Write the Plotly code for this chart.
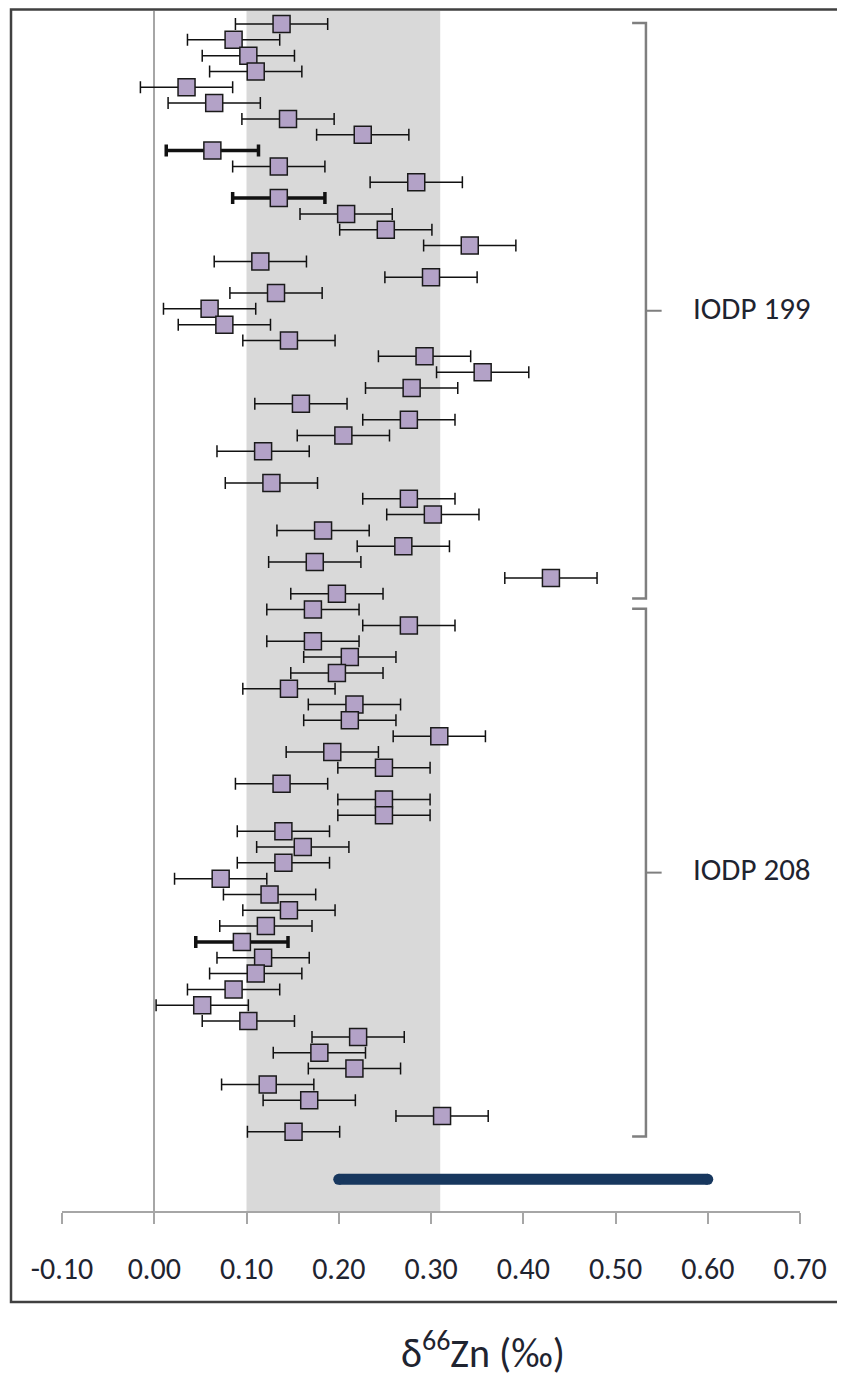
import plotly.graph_objects as go

# d66Zn values, top to bottom (None = empty row)
IODP_199 = [0.138, 0.086, 0.102, 0.110, 0.035, 0.065, 0.145, 0.226, 0.063, 0.135,
            0.284, 0.135, 0.208, 0.251, 0.342, 0.115, 0.300, 0.132, 0.060, 0.076,
            0.146, 0.293, 0.356, 0.279, 0.159, 0.276, 0.205, 0.118, None, 0.127,
            0.276, 0.302, 0.183, 0.270, 0.174, 0.430, 0.198]
IODP_208 = [0.172, 0.276, 0.172, 0.212, 0.198, 0.146, 0.217, 0.212, 0.309, 0.193,
            0.249, 0.138, 0.249, 0.249, 0.140, 0.161, 0.140, 0.072, 0.125, 0.146,
            0.121, 0.095, 0.118, 0.110, 0.086, 0.052, 0.102, 0.221, 0.179, 0.217,
            0.123, 0.168, 0.312, 0.151]
GROUP_NAMES = ["IODP 199", "IODP 208"]
THICK_ROWS = [8, 11, 58]          # rows drawn with heavier error bars
ZN_ERR = 0.05                     # 2sd on every measurement
BAND = [0.10, 0.31]               # grey reference band
BAR_RANGE = [0.20, 0.60]          # dark blue range bar
TICK_VALS = [-0.10, 0.00, 0.10, 0.20, 0.30, 0.40, 0.50, 0.60, 0.70]
TICK_LABELS = ["-0.10", "0.00", "0.10", "0.20", "0.30", "0.40", "0.50", "0.60", "0.70"]

FONT = "Carlito, Calibri, Lato, sans-serif"
TEXT_COLOR = "#1f2430"
FILL = "#b3a2c7"
AXIS_GREY = "#a6a6a6"
NAVY = "#17375e"

values = IODP_199 + IODP_208
rows = list(range(len(values)))
bar_row = len(values) + 2

normal_x = [v if i not in THICK_ROWS else None for i, v in zip(rows, values)]
thick_x = [v if i in THICK_ROWS else None for i, v in zip(rows, values)]

fig = go.Figure()

marker = dict(symbol="square", size=17, color=FILL, line=dict(color="#1a1a1a", width=1.5))

fig.add_trace(go.Scatter(
    x=normal_x, y=rows, mode="markers", marker=marker,
    error_x=dict(type="constant", value=ZN_ERR, color="#111111", thickness=1.5, width=6),
))
fig.add_trace(go.Scatter(
    x=thick_x, y=rows, mode="markers", marker=marker,
    error_x=dict(type="constant", value=ZN_ERR, color="#111111", thickness=3.5, width=6),
))
fig.add_trace(go.Scatter(
    x=BAR_RANGE, y=[bar_row, bar_row], mode="lines+markers",
    line=dict(color=NAVY, width=11),
    marker=dict(color=NAVY, size=11, symbol="circle"),
))

shapes = [
    dict(type="rect", xref="x", yref="paper", x0=BAND[0], x1=BAND[1], y0=0, y1=1,
         fillcolor="#d9d9d9", line=dict(width=0), layer="below"),
    # chart frame
    dict(type="rect", xref="paper", yref="paper",
         x0=-0.0691, x1=1.08, y0=-0.0758, y1=1.0013,
         line=dict(color="#404040", width=2.5), fillcolor="rgba(0,0,0,0)"),
]

annotations = []
starts = [0, len(IODP_199)]
ends = [len(IODP_199) - 1, len(values) - 1]
bx, hook, tip = 0.533, 0.518, 0.550
for name, s, e in zip(GROUP_NAMES, starts, ends):
    y0, y1 = s - 0.06, e + 0.3
    ym = (y0 + y1) / 2
    shapes.append(dict(
        type="path", xref="x", yref="y",
        path=f"M {hook},{y0} L {bx},{y0} L {bx},{y1} L {hook},{y1}",
        line=dict(color="#7f7f7f", width=2.5),
    ))
    shapes.append(dict(
        type="line", xref="x", yref="y", x0=bx, x1=tip, y0=ym, y1=ym,
        line=dict(color="#7f7f7f", width=2),
    ))
    annotations.append(dict(
        x=0.582, y=ym - 0.2, xref="x", yref="y", text=name, showarrow=False,
        xanchor="left", yanchor="middle",
        font=dict(family=FONT, size=31, color=TEXT_COLOR),
    ))

annotations.append(dict(
    x=0.57, y=-0.116, xref="paper", yref="paper",
    text="δ<sup>66</sup>Zn (‰)", showarrow=False,
    xanchor="center", yanchor="middle",
    font=dict(family=FONT, size=40, color=TEXT_COLOR),
))

# page body adds an 8px offset, so the figure is 8px smaller and margins shifted
fig.update_layout(
    width=837, height=1367, autosize=False,
    margin=dict(l=54, r=45, t=3, b=164),
    paper_bgcolor="white", plot_bgcolor="rgba(0,0,0,0)",
    showlegend=False,
    font=dict(family=FONT, color=TEXT_COLOR),
    xaxis=dict(
        range=[-0.10, 0.70], tickvals=TICK_VALS, ticktext=TICK_LABELS,
        showgrid=False, zeroline=True, zerolinecolor=AXIS_GREY, zerolinewidth=2,
        showline=True, linecolor=AXIS_GREY, linewidth=2,
        ticks="outside", ticklen=11, tickwidth=2, tickcolor=AXIS_GREY,
        ticklabelstandoff=19,
        tickfont=dict(family=FONT, size=30, color=TEXT_COLOR),
    ),
    yaxis=dict(
        range=[75.0, -0.82], showgrid=False, zeroline=False,
        showline=False, showticklabels=False, ticks="",
    ),
    shapes=shapes,
    annotations=annotations,
)

fig.write_html("out.html")
